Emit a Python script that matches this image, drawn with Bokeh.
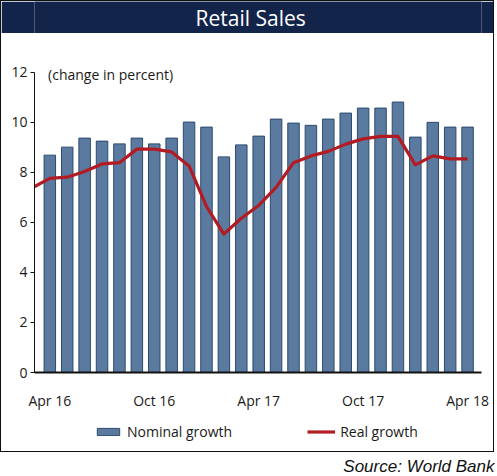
from bokeh.plotting import figure
from bokeh.layouts import column
from bokeh.models import (Range1d, FixedTicker, Legend, LegendItem, Label,
                          ColumnDataSource)
from bokeh.core.properties import value
from bokeh.embed import file_html
from bokeh.resources import INLINE

# ---------------- data ----------------
months = ["Apr 16", "May 16", "Jun 16", "Jul 16", "Aug 16", "Sep 16", "Oct 16",
          "Nov 16", "Dec 16", "Jan 17", "Feb 17", "Mar 17", "Apr 17", "May 17",
          "Jun 17", "Jul 17", "Aug 17", "Sep 17", "Oct 17", "Nov 17", "Dec 17",
          "Jan 18", "Feb 18", "Mar 18", "Apr 18"]
nominal_growth = [8.68, 9.00, 9.36, 9.24, 9.13, 9.36, 9.13, 9.36, 10.00, 9.80,
                  8.61, 9.09, 9.44, 10.12, 9.96, 9.87, 10.12, 10.36, 10.56,
                  10.56, 10.80, 9.40, 9.99, 9.80, 9.80]
real_months = ["Mar 16"] + months
real_growth = [7.38, 7.75, 7.80, 8.03, 8.33, 8.38, 8.92, 8.92, 8.81, 8.25, 6.63,
               5.53, 6.16, 6.67, 7.39, 8.38, 8.65, 8.83, 9.12, 9.33, 9.43, 9.43,
               8.29, 8.65, 8.53, 8.53]
tick_labels = ["Apr 16", "Oct 16", "Apr 17", "Oct 17", "Apr 18"]
y_ticks = [0, 2, 4, 6, 8, 10, 12]
series_names = ["Nominal growth", "Real growth"]

title_text = "Retail Sales"
unit_text = "(change in percent)"
source_text = "Source: World Bank"

# ---------------- styling ----------------
FONT = "Open Sans"
BAR_FILL = "#5b7aa0"
BAR_LINE = "#2c4a6e"
LINE_RED = "#b31b23"
NAVY = "#13244a"
TXT = "#1a1a1a"

IW = 492            # inner width of the boxed area
TITLE_H = 32
MAIN_H = 379
LEG_H = 39
SRC_W, SRC_H = 495, 23


def blank_fig(w, h, bg):
    f = figure(width=w, height=h, output_backend="svg", toolbar_location=None,
               x_range=Range1d(0, w), y_range=Range1d(0, h),
               x_axis_location=None, y_axis_location=None,
               min_border=0, min_border_left=0, min_border_right=0,
               min_border_top=0, min_border_bottom=0)
    f.background_fill_color = bg
    f.border_fill_color = bg
    f.outline_line_color = None
    f.xgrid.visible = False
    f.ygrid.visible = False
    return f


# ---------------- title bar ----------------
title_fig = blank_fig(IW, TITLE_H, NAVY)
title_fig.text(x=[238], y=[16], text=[title_text], text_font=value(FONT),
               text_font_size="21px", text_color="white", text_align="center",
               text_baseline="middle")

# ---------------- main chart ----------------
x_bar = list(range(len(months)))
x_real = [i - 1 for i in range(len(real_months))]   # Mar 16 is one month before Apr 16

bars_src = ColumnDataSource(dict(x=x_bar, top=nominal_growth, month=months))
line_src = ColumnDataSource(dict(x=x_real, y=real_growth, month=real_months))

p = figure(width=IW, height=MAIN_H, output_backend="svg", toolbar_location=None,
           x_range=Range1d(-0.88, 24.8), y_range=Range1d(0, 12.3),
           min_border_left=33, min_border_right=12,
           min_border_top=31, min_border_bottom=40)
p.background_fill_color = "white"
p.border_fill_color = "white"
p.outline_line_color = None
p.xgrid.grid_line_color = None
p.ygrid.grid_line_color = None

bars = p.vbar(x="x", top="top", width=0.66, bottom=0, source=bars_src,
              fill_color=BAR_FILL, line_color=BAR_LINE, line_width=1)
line = p.line(x="x", y="y", source=line_src, line_color=LINE_RED,
              line_width=3.2, line_join="round")

tick_pos = [months.index(t) for t in tick_labels]
xa = p.xaxis[0]
xa.ticker = FixedTicker(ticks=tick_pos)
xa.major_label_overrides = {pos: lab for pos, lab in zip(tick_pos, tick_labels)}
xa.major_tick_out = 0
xa.major_tick_in = 0
xa.minor_tick_line_color = None
xa.axis_line_color = "#111111"
xa.axis_line_width = 2
xa.major_label_standoff = 18
xa.major_label_text_font = FONT
xa.major_label_text_font_size = "14px"
xa.major_label_text_color = TXT

ya = p.yaxis[0]
ya.ticker = FixedTicker(ticks=y_ticks)
ya.bounds = (y_ticks[0], y_ticks[-1])
ya.major_tick_out = 4
ya.major_tick_in = 0
ya.minor_tick_line_color = None
ya.axis_line_color = "#111111"
ya.major_tick_line_color = "#111111"
ya.major_label_standoff = 3
ya.major_label_text_font = FONT
ya.major_label_text_font_size = "14px"
ya.major_label_text_color = TXT

p.add_layout(Label(x=-0.1, y=y_ticks[-1], text=unit_text, text_font=FONT,
                   text_font_size="14px", text_color=TXT,
                   text_baseline="middle", text_align="left", y_offset=-2))

# ---------------- legend strip ----------------
# proxy renderers share the chart's data, drawn on an out-of-view range
leg_fig = blank_fig(IW, LEG_H, "white")
leg_fig.extra_y_ranges = {"proxy": Range1d(1000, 1001)}
leg_bar = leg_fig.vbar(x="x", top="top", width=0.66, bottom=0, source=bars_src,
                       fill_color=BAR_FILL, line_color=BAR_LINE, line_width=1,
                       y_range_name="proxy")
leg_line = leg_fig.line(x="x", y="y", source=line_src, line_color=LINE_RED,
                        line_width=3.2, y_range_name="proxy")
legend = Legend(items=[LegendItem(label=series_names[0], renderers=[leg_bar]),
                       LegendItem(label=series_names[1], renderers=[leg_line])],
                orientation="horizontal", location=(60, 10),
                glyph_width=28, glyph_height=9, label_standoff=5, spacing=75,
                padding=0, margin=0, border_line_color=None,
                background_fill_alpha=0, label_text_font=FONT,
                label_text_font_size="14px", label_text_color=TXT)
leg_fig.add_layout(legend)

# ---------------- source line ----------------
src_fig = blank_fig(SRC_W, SRC_H, "white")
src_fig.text(x=[494], y=[9], text=[source_text],
             text_font=value("Liberation Sans"), text_font_style="italic",
             text_font_size="17px", text_color="#111111", text_align="right",
             text_baseline="middle")

boxed = column(title_fig, p, leg_fig, spacing=0,
               styles={"border": "1.5px solid #111111"})
page = column(boxed, src_fig, spacing=0)

open("out.html", "w").write(file_html(page, INLINE))
